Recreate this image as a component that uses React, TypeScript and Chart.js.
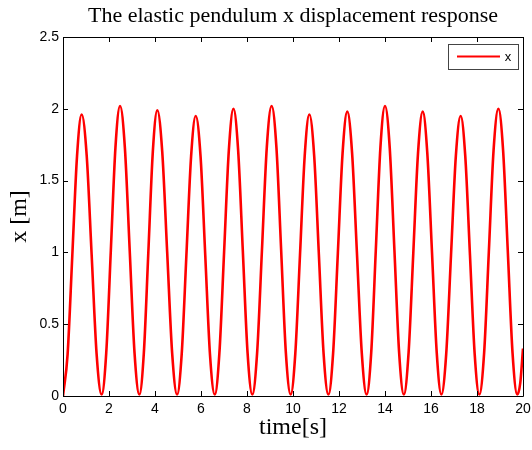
import React, { useEffect, useRef } from "react";
import { Chart, registerables } from "chart.js";

Chart.register(...registerables);

const titleText = "The elastic pendulum x displacement response";
const xAxisLabel = "time[s]";
const yAxisLabel = "x [m]";
const seriesLabel = "x";

const timeValues = [
  0.0, 0.2, 0.405, 0.61, 0.81,
  1.03, 1.245, 1.46, 1.68,
  1.88, 2.08, 2.28, 2.48,
  2.69, 2.9, 3.11, 3.32,
  3.515, 3.71, 3.905, 4.1,
  4.315, 4.53, 4.745, 4.96,
  5.16, 5.365, 5.57, 5.77,
  5.98, 6.185, 6.39, 6.6,
  6.8, 7.005, 7.21, 7.41,
  7.615, 7.82, 8.025, 8.23,
  8.44, 8.65, 8.86, 9.07,
  9.28, 9.485, 9.69, 9.9,
  10.1, 10.305, 10.51, 10.71,
  10.92, 11.125, 11.33, 11.54,
  11.745, 11.95, 12.155, 12.36,
  12.57, 12.78, 12.99, 13.2,
  13.4, 13.6, 13.8, 14.0,
  14.205, 14.41, 14.615, 14.82,
  15.025, 15.23, 15.435, 15.64,
  15.84, 16.045, 16.25, 16.45,
  16.66, 16.87, 17.08, 17.29,
  17.49, 17.695, 17.9, 18.1,
  18.31, 18.515, 18.72, 18.93,
  19.135, 19.34, 19.545, 19.75,
  19.88, 20.0,
];

const xValues = [
  0.0, 0.29, 0.98, 1.67, 1.96,
  1.675, 0.985, 0.295, 0.01,
  0.3, 1.015, 1.73, 2.02,
  1.73, 1.015, 0.3, 0.01,
  0.3, 1.0, 1.7, 1.99,
  1.7, 1.0, 0.3, 0.01,
  0.29, 0.98, 1.67, 1.95,
  1.67, 0.98, 0.29, 0.01,
  0.3, 1.005, 1.71, 2.0,
  1.71, 1.005, 0.3, 0.01,
  0.3, 1.015, 1.73, 2.02,
  1.73, 1.015, 0.3, 0.01,
  0.295, 0.985, 1.675, 1.96,
  1.675, 0.985, 0.295, 0.01,
  0.3, 0.995, 1.69, 1.98,
  1.69, 0.995, 0.3, 0.01,
  0.3, 1.015, 1.73, 2.02,
  1.73, 1.015, 0.3, 0.01,
  0.3, 0.995, 1.69, 1.98,
  1.69, 0.995, 0.3, 0.01,
  0.29, 0.98, 1.67, 1.95,
  1.67, 0.98, 0.29, 0.01,
  0.3, 1.005, 1.71, 2.0,
  1.71, 1.005, 0.3, 0.01,
  0.09, 0.33,
];

const xTickStep = 2;
const yTickStep = 0.5;
const xMin = 0, xMax = 20;
const yMin = 0, yMax = 2.5;

const boxPlugin = {
  id: "matlabBox",
  afterDraw(chart: any) {
    const { ctx, chartArea } = chart;
    const { left, right, top, bottom } = chartArea;
    const xs = chart.scales.x;
    const ys = chart.scales.y;
    ctx.save();
    ctx.strokeStyle = "#000";
    ctx.lineWidth = 1;
    ctx.beginPath();
    ctx.rect(Math.round(left) + 0.5, Math.round(top) + 0.5, Math.round(right - left), Math.round(bottom - top));
    ctx.stroke();
    const tl = 5;
    ctx.beginPath();
    xs.ticks.forEach((t: any) => {
      const px = Math.round(xs.getPixelForValue(t.value)) + 0.5;
      ctx.moveTo(px, bottom);
      ctx.lineTo(px, bottom - tl);
      ctx.moveTo(px, top);
      ctx.lineTo(px, top + tl);
    });
    ys.ticks.forEach((t: any) => {
      const py = Math.round(ys.getPixelForValue(t.value)) + 0.5;
      ctx.moveTo(left, py);
      ctx.lineTo(left + tl, py);
      ctx.moveTo(right, py);
      ctx.lineTo(right - tl, py);
    });
    ctx.stroke();

    // legend box (MATLAB style, inside the axes, top right)
    const ds = chart.data.datasets[0];
    const lw = 70, lh = 25;
    const lx = Math.round(right) - 75;
    const ly = Math.round(top) + 7;
    ctx.fillStyle = "#fff";
    ctx.fillRect(lx, ly, lw, lh);
    ctx.strokeStyle = "#444";
    ctx.strokeRect(lx + 0.5, ly + 0.5, lw, lh);
    ctx.strokeStyle = ds.borderColor;
    ctx.lineWidth = 2;
    ctx.beginPath();
    ctx.moveTo(lx + 9, ly + 12.5);
    ctx.lineTo(lx + 52, ly + 12.5);
    ctx.stroke();
    ctx.fillStyle = "#000";
    ctx.font = "13px 'Liberation Sans', Arial, sans-serif";
    ctx.textAlign = "center";
    ctx.textBaseline = "middle";
    ctx.fillText(ds.label, lx + 60, ly + 13);
    ctx.restore();
  },
};

export default function App() {
  const ref = useRef<HTMLCanvasElement | null>(null);
  useEffect(() => {
    document.body.style.margin = "0";
    const canvas = ref.current;
    if (!canvas) return;
    const points = timeValues.map((t, i) => ({ x: t, y: xValues[i] }));
    const chart = new Chart(canvas, {
      type: "line",
      data: {
        datasets: [
          {
            label: seriesLabel,
            data: points,
            borderColor: "#ff0000",
            borderWidth: 2.6,
            pointRadius: 0,
            fill: false,
            cubicInterpolationMode: "monotone",
          },
        ],
      },
      options: {
        animation: false,
        responsive: false,
        maintainAspectRatio: false,
        layout: { padding: { left: 0, right: 9, top: 0, bottom: 0 } },
        plugins: {
          legend: { display: false },
          tooltip: { enabled: false },
          title: {
            display: true,
            text: titleText,
            fullSize: false,
            color: "#000",
            font: { family: "'Liberation Serif', 'Times New Roman', serif", size: 22, weight: "normal" },
            padding: { top: 3, bottom: 7.6 },
          },
        },
        scales: {
          x: {
            type: "linear",
            min: xMin,
            max: xMax,
            grid: { display: false, drawTicks: false },
            border: { display: false },
            ticks: {
              stepSize: xTickStep,
              color: "#000",
              padding: 5,
              maxRotation: 0,
              font: { family: "'Liberation Sans', Arial, sans-serif", size: 14 },
              callback: (v: any) => String(Number(v)),
            },
            title: {
              display: true,
              text: xAxisLabel,
              color: "#000",
              font: { family: "'Liberation Serif', 'Times New Roman', serif", size: 24 },
              padding: { top: 0, bottom: 7.6 },
            },
            afterFit(scale: any) {
              scale.height = 54;
              scale.paddingLeft = 0;
              scale.paddingRight = 0;
            },
          },
          y: {
            type: "linear",
            min: yMin,
            max: yMax,
            grid: { display: false, drawTicks: false },
            border: { display: false },
            ticks: {
              stepSize: yTickStep,
              color: "#000",
              padding: 4,
              font: { family: "'Liberation Sans', Arial, sans-serif", size: 14 },
              callback: (v: any) => String(Number(v)),
            },
            title: {
              display: true,
              text: yAxisLabel,
              color: "#000",
              font: { family: "'Liberation Serif', 'Times New Roman', serif", size: 24 },
              padding: { top: 5.6, bottom: 0 },
            },
            afterFit(scale: any) {
              scale.width = 63;
              scale.paddingTop = 0;
              scale.paddingBottom = 0;
            },
          },
        },
      },
      plugins: [boxPlugin],
    });
    return () => chart.destroy();
  }, []);
  return (
    <div style={{ width: 532, height: 450, background: "#fff" }}>
      <canvas ref={ref} width={532} height={450} style={{ display: "block", width: 532, height: 450 }} />
    </div>
  );
}
